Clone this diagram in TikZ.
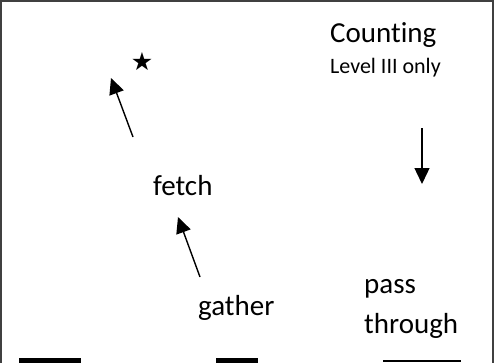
\documentclass[tikz,border=0pt]{standalone}
\usepackage{fontspec}
\setmainfont{Carlito}[Ligatures={NoCommon}]
\newfontfamily\symfont{DejaVu Sans}
\usetikzlibrary{arrows.meta}
\tikzset{
  lbl/.style={inner sep=0pt, anchor=base west, font=\fontsize{29}{40}\selectfont},
  sublbl/.style={inner sep=0pt, anchor=base west, font=\fontsize{22}{24}\selectfont},
  ptr/.style={-{Triangle[length=16pt,width=15pt]}, line width=1.4pt},
}
\begin{document}
\begin{tikzpicture}[x=1pt,y=-1pt]
  \useasboundingbox (0,0) rectangle (496,362);
  \clip (0,0) rectangle (496,362);
  \draw[line width=2pt, draw=black!75] (1,380) -- (1,1) -- (493,1) -- (493,380);
  \draw
    (330,42) node[lbl] (counting){Counting}
    (330,73) node[sublbl] (level){Level III only}
    (142,62) node[inner sep=0pt, font=\symfont\fontsize{25}{25}\selectfont] (star){★}
    (153,195) node[lbl] (fetch){fetch}
    (198,315) node[lbl] (gather){gather}
    (364,333) node[lbl, align=left] (pass){pass\\through};
  \path
    (133,137) coordinate (fetchtail)
    (111,78) coordinate (fetchtip)
    (200,277) coordinate (gathertail)
    (178,217) coordinate (gathertip)
    (422,128) coordinate (passtail)
    (422,184) coordinate (passtip);
  \begin{scope}[ptr]
    \draw (fetchtail) to (fetchtip);
    \draw (gathertail) to (gathertip);
    \draw (passtail) to (passtip);
  \end{scope}
  \fill (19,358) rectangle (81,366);
  \fill (216,358) rectangle (258,366);
  \fill (383,359.5) rectangle (461,361.5);
\end{tikzpicture}
\end{document}
